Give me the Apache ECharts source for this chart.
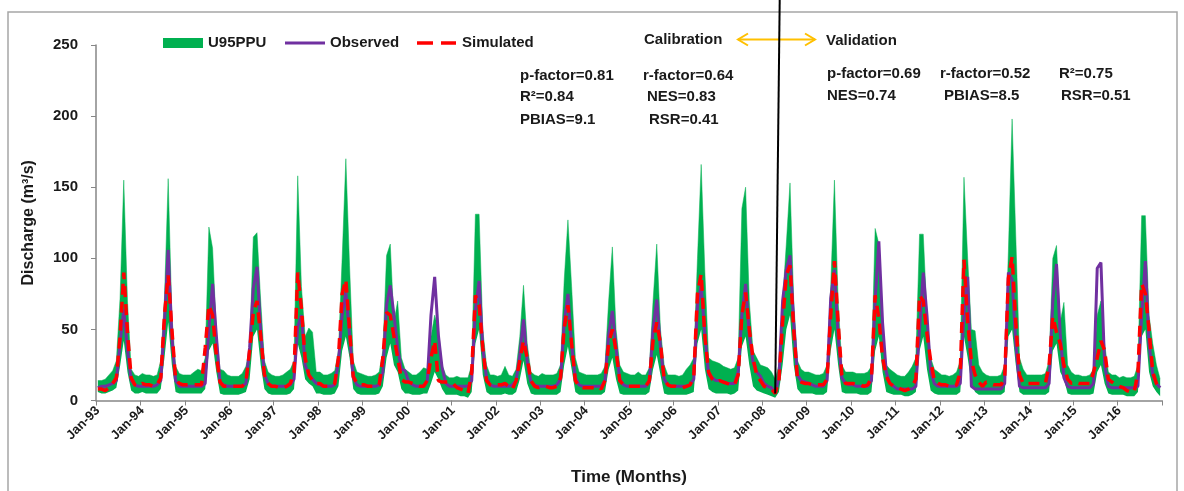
<!DOCTYPE html>
<html>
<head>
<meta charset="utf-8">
<script src="https://cdn.jsdelivr.net/npm/echarts@6/dist/echarts.min.js"></script>
<style>
html,body{margin:0;padding:0;background:#fff;}
#c{width:1184px;height:491px;}
</style>
</head>
<body>
<div id="c"></div>
<script>
const monthNames = ['Jan','Feb','Mar','Apr','May','Jun','Jul','Aug','Sep','Oct','Nov','Dec'];
const yearLabels = ['93','94','95','96','97','98','99','00','01','02','03','04','05','06','07','08','09','10','11','12','13','14','15','16'];
const yTicks = [0, 50, 100, 150, 200, 250];
const legendNames = ['U95PPU', 'Observed', 'Simulated'];

// Observed discharge (m3/s), one row per year Jan..Dec
const observed = [
  9,10,10,11,12,14,40,64,36,14,11,10,
  10,10,10,10,11,14,55,106,45,14,10,10,
  10,10,10,10,10,12,50,82,46,13,11,10,
  10,10,10,10,12,37,79,94,48,18,12,10,
  10,10,10,10,11,15,52,60,25,18,15,12,
  11,10,10,10,11,27,60,76,46,16,11,10,
  10,10,10,10,11,20,67,81,60,37,22,21,
  13,11,10,10,10,14,60,87,46,23,12,10,
  10,10,10,10,10,14,64,84,37,16,11,10,
  10,10,10,10,11,14,32,57,27,13,11,10,
  10,10,10,10,11,15,55,75,39,16,11,10,
  10,10,10,10,10,14,46,63,37,15,11,10,
  10,10,10,10,10,13,50,71,37,15,11,10,
  10,10,10,10,11,15,67,81,46,18,16,14,
  14,13,12,12,12,20,60,82,46,27,20,17,
  12,10,9,5,16,70,92,102,55,18,14,13,
  12,11,10,10,10,14,72,92,45,16,12,11,
  11,10,10,10,10,14,70,112,55,20,12,10,
  8,8,8,8,8,10,50,90,60,20,12,10,
  10,10,10,10,10,12,60,87,10,8,8,8,
  8,8,8,8,8,12,90,85,40,10,9,9,
  9,9,9,9,9,12,70,96,47,16,10,9,
  9,9,9,9,9,12,93,97,25,10,9,9,
  9,9,9,9,9,10,60,98,40,18,12,9
];
// Simulated discharge (m3/s)
const simulated = [
  8,8,7,9,12,16,45,90,48,16,11,10,
  12,11,11,10,11,16,60,88,50,15,12,11,
  11,11,11,11,11,37,67,60,32,13,10,10,
  10,10,10,10,13,35,62,70,45,18,12,10,
  10,9,9,10,12,20,90,65,30,18,14,12,
  12,10,10,10,12,30,75,85,50,17,12,11,
  11,10,10,10,11,30,62,60,45,30,15,13,
  13,12,11,10,10,14,30,42,14,13,13,13,
  12,9,8,7,5,20,74,67,37,14,11,10,
  11,11,12,10,8,14,28,42,30,14,10,9,
  10,10,9,9,10,16,51,67,40,14,10,9,
  9,9,9,10,8,14,40,50,35,14,11,10,
  10,10,10,10,10,14,42,55,40,15,11,10,
  10,9,9,10,11,17,75,89,45,20,15,13,
  14,13,12,11,11,18,60,76,50,30,18,14,
  10,9,8,5,14,55,88,95,50,15,13,12,
  12,11,11,11,11,15,60,98,55,18,12,12,
  12,11,11,10,11,16,74,58,30,17,12,10,
  9,8,7,8,10,15,74,70,47,28,14,12,
  11,11,10,10,11,20,99,55,28,18,13,10,
  13,12,11,11,11,16,86,101,55,18,12,12,
  12,12,12,12,12,25,59,48,40,25,15,12,
  13,12,12,12,12,20,30,42,35,15,13,11,
  10,9,7,6,6,20,82,75,50,20,12,8
];
// Upper bound of 95PPU
const upper95 = [
  14,14,15,18,21,28,72,155,70,22,18,17,
  19,18,18,17,18,28,72,156,60,24,19,18,
  18,18,20,22,21,30,122,107,50,22,21,18,
  17,17,17,19,24,35,115,118,70,28,20,18,
  17,17,18,20,22,28,158,80,45,51,48,20,
  20,18,18,19,21,35,100,170,95,28,20,19,
  18,17,17,18,20,35,102,110,55,70,30,22,
  20,18,18,20,23,22,45,60,50,25,18,16,
  16,17,16,16,16,25,131,131,50,25,18,18,
  17,18,24,18,17,22,45,81,40,20,18,17,
  19,18,18,18,19,25,85,127,80,30,20,19,
  18,18,18,18,19,24,70,108,50,25,20,19,
  18,18,20,18,18,23,70,110,50,25,18,18,
  18,17,18,22,25,30,100,166,90,30,28,27,
  26,24,23,22,23,30,135,150,70,35,30,25,
  24,23,20,15,25,70,110,153,70,28,22,20,
  20,19,18,18,19,25,80,155,70,25,20,20,
  20,19,19,19,20,24,121,110,50,25,22,20,
  18,17,17,20,24,30,117,117,60,30,22,20,
  18,18,17,18,20,28,157,100,50,49,25,20,
  18,17,17,17,18,25,105,198,115,30,22,18,
  18,18,18,18,19,28,100,109,55,69,25,20,
  18,18,17,17,18,22,60,70,40,20,18,18,
  16,17,16,16,17,25,130,130,60,40,25,15
];
// Lower bound of 95PPU
const lower95 = [
  6,5,5,6,7,9,24,42,20,7,5,5,
  6,5,5,5,5,8,30,55,25,6,5,5,
  5,5,5,5,5,8,35,40,20,5,4,4,
  4,4,4,5,6,15,45,50,25,8,5,4,
  4,4,4,4,5,8,40,30,15,12,10,5,
  5,4,4,4,5,10,35,45,30,8,5,4,
  4,4,4,4,5,10,30,40,25,20,8,5,
  5,4,4,4,5,5,12,20,15,8,4,4,
  4,4,3,3,2,6,40,50,18,6,4,4,
  4,4,5,4,4,6,15,28,12,5,4,4,
  4,4,4,4,4,6,25,38,22,6,4,4,
  4,4,4,4,4,6,22,30,15,5,4,4,
  4,4,4,4,4,6,22,32,18,5,4,4,
  4,4,4,4,5,6,40,50,22,8,6,5,
  5,5,5,4,5,7,38,45,25,10,7,6,
  5,4,3,2,6,25,50,60,25,8,5,5,
  5,5,4,4,4,6,35,50,25,6,5,5,
  5,5,4,4,4,6,35,45,20,6,5,4,
  4,4,3,3,4,6,35,45,22,7,5,4,
  4,4,4,4,4,6,45,30,12,6,4,4,
  4,4,4,4,4,6,45,50,25,6,4,4,
  4,4,4,4,4,6,35,40,20,15,5,4,
  4,4,4,4,4,5,20,25,12,5,4,4,
  4,4,3,3,3,6,45,50,20,10,6,3
];

const categories = [];
yearLabels.forEach(y => monthNames.forEach(m => categories.push(m + '-' + y)));
const bandWidth = upper95.map((u, i) => u - lower95[i]);

const FONT = '"Liberation Sans", Arial, sans-serif';
const TXT = '#1a1a1a';
const GREEN = '#00B050', PURPLE = '#7030A0', RED = '#FF0000', ARROW = '#FFC000';

const chart = echarts.init(document.getElementById('c'), null, {renderer: 'canvas'});
chart.setOption({
  animation: false,
  backgroundColor: '#fff',
  grid: {left: 96, right: 22, top: 45, bottom: 88, containLabel: false},
  xAxis: {
    type: 'category',
    data: categories,
    boundaryGap: true,
    axisLine: {show: true, lineStyle: {color: '#868686', width: 1.5}},
    axisTick: {show: true, interval: 11, length: 5, lineStyle: {color: '#868686'}},
    axisLabel: {
      interval: 11, rotate: 45, margin: 8,
      fontFamily: FONT, fontWeight: 'bold', fontSize: 13, color: TXT
    },
    splitLine: {show: false},
    name: 'Time (Months)',
    nameLocation: 'middle',
    nameGap: 77,
    nameTextStyle: {fontFamily: FONT, fontWeight: 'bold', fontSize: 17, color: TXT, verticalAlign: 'middle'}
  },
  yAxis: {
    type: 'value',
    min: yTicks[0], max: yTicks[yTicks.length - 1], interval: 50,
    axisLine: {show: true, lineStyle: {color: '#868686', width: 1.5}},
    axisTick: {show: true, length: 5, lineStyle: {color: '#868686'}},
    axisLabel: {margin: 18, fontFamily: FONT, fontWeight: 'bold', fontSize: 15, color: TXT},
    splitLine: {show: false},
    name: 'Discharge (m³/s)',
    nameLocation: 'middle',
    nameRotate: 90,
    nameGap: 59,
    nameTextStyle: {fontFamily: FONT, fontWeight: 'bold', fontSize: 16, color: TXT}
  },
  series: [
    {
      name: 'L95PPU', type: 'line', data: lower95, stack: 'ppu',
      symbol: 'none', silent: true,
      lineStyle: {width: 0, opacity: 0}, areaStyle: {opacity: 0}
    },
    {
      name: legendNames[0], type: 'line', data: bandWidth, stack: 'ppu',
      symbol: 'none', color: GREEN,
      lineStyle: {width: 0.5, color: GREEN},
      areaStyle: {color: GREEN, opacity: 1}
    },
    {
      name: legendNames[1], type: 'line', data: observed,
      symbol: 'none', color: PURPLE,
      lineStyle: {width: 3, color: PURPLE}
    },
    {
      name: legendNames[2], type: 'line', data: simulated,
      symbol: 'none', color: RED,
      lineStyle: {width: 3.5, color: RED, type: [11, 7]}
    }
  ]
});

// annotations and legend
const divIdx = categories.indexOf('Apr-08');
const pb = chart.convertToPixel({gridIndex: 0}, [divIdx, simulated[divIdx]]);
const txt = (t, x, y) => ({type: 'text', silent: true, z: 10,
  style: {text: t, x: x, y: y, font: 'bold 15px ' + FONT, fill: TXT, verticalAlign: 'middle', align: 'left'}});
chart.setOption({
  graphic: [
    {type: 'rect', silent: true, z: -1, shape: {x: 8, y: 12, width: 1169, height: 490},
      style: {fill: 'none', stroke: '#A6A6A6', lineWidth: 1.5}},
    // legend
    {type: 'rect', silent: true, shape: {x: 163, y: 38, width: 40, height: 10}, style: {fill: GREEN}},
    txt(legendNames[0], 208, 43),
    {type: 'line', silent: true, shape: {x1: 285, y1: 43, x2: 325, y2: 43}, style: {stroke: PURPLE, lineWidth: 3}},
    txt(legendNames[1], 330, 43),
    {type: 'line', silent: true, shape: {x1: 417, y1: 43, x2: 456, y2: 43}, style: {stroke: RED, lineWidth: 3.5, lineDash: [16, 8]}},
    txt(legendNames[2], 462, 43),
    // divider
    {type: 'line', silent: true, z: 10, shape: {x1: pb[0], y1: pb[1], x2: pb[0] + 4.5, y2: 0},
      style: {stroke: '#000', lineWidth: 2}},
    {type: 'line', silent: true, shape: {x1: 738, y1: 39.5, x2: 815, y2: 39.5}, style: {stroke: ARROW, lineWidth: 2}},
    {type: 'polyline', silent: true, shape: {points: [[748, 33.5], [738, 39.5], [748, 45.5]]}, style: {stroke: ARROW, lineWidth: 2, fill: 'none'}},
    {type: 'polyline', silent: true, shape: {points: [[805, 33.5], [815, 39.5], [805, 45.5]]}, style: {stroke: ARROW, lineWidth: 2, fill: 'none'}},
    txt('Calibration', 644, 40),
    txt('Validation', 826, 41),
    txt('p-factor=0.81', 520, 76),
    txt('r-factor=0.64', 643, 76),
    txt('R²=0.84', 520, 97),
    txt('NES=0.83', 647, 97),
    txt('PBIAS=9.1', 520, 120),
    txt('RSR=0.41', 649, 120),
    txt('p-factor=0.69', 827, 74),
    txt('r-factor=0.52', 940, 74),
    txt('R²=0.75', 1059, 74),
    txt('NES=0.74', 827, 96),
    txt('PBIAS=8.5', 944, 96),
    txt('RSR=0.51', 1061, 96)
  ]
});
</script>
</body>
</html>
